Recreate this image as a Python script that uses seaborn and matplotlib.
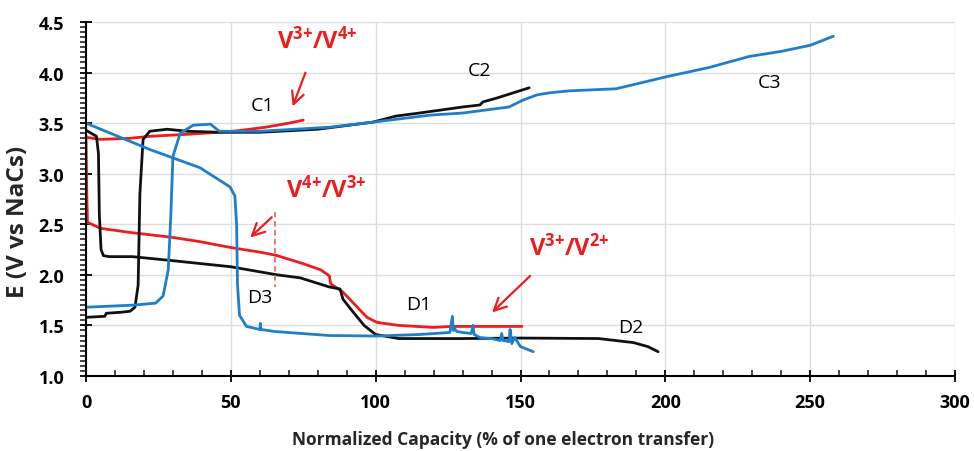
import matplotlib
matplotlib.use("Agg")
import matplotlib.pyplot as plt
import seaborn as sns
import pandas as pd
import numpy as np
from matplotlib.ticker import MultipleLocator

# ---------------- data ----------------
# Cycle 1 (red)
c1_x = [0, 5, 15, 22, 35, 51, 62, 70, 75]
c1_y = [3.36, 3.34, 3.35, 3.37, 3.39, 3.42, 3.46, 3.50, 3.53]
d1_x = [0, 0.2, 0.5, 5, 15, 30, 39, 50, 61, 66, 75, 81, 84, 84.5, 88.7, 93, 97,
        100.4, 108, 120, 126, 135, 150.5]
d1_y = [3.38, 2.9, 2.52, 2.46, 2.42, 2.37, 2.33, 2.27, 2.22, 2.19, 2.11, 2.05, 1.99,
        1.91, 1.83, 1.70, 1.58, 1.53, 1.50, 1.48, 1.49, 1.49, 1.49]

# Cycle 2 (black)
c2_x = [0, 6.5, 7, 12, 15.2, 16.9, 18, 18.6, 19.7, 22, 28, 35, 46, 60, 80, 99, 107,
        115, 130, 136, 137, 142, 153]
c2_y = [1.58, 1.59, 1.62, 1.63, 1.64, 1.68, 1.9, 2.8, 3.34, 3.42, 3.44, 3.42, 3.41,
        3.41, 3.44, 3.51, 3.57, 3.60, 3.66, 3.68, 3.71, 3.75, 3.85]
d2_x = [0, 3.6, 4.3, 4.6, 5.2, 6, 8, 16, 30, 50, 66, 74, 84, 87.7, 88.7, 92, 96, 100,
        108, 130, 150, 177, 189, 194, 197.5]
d2_y = [3.43, 3.37, 3.2, 2.6, 2.25, 2.19, 2.18, 2.18, 2.14, 2.08, 2.0, 1.97, 1.88,
        1.86, 1.76, 1.64, 1.50, 1.41, 1.37, 1.37, 1.375, 1.37, 1.33, 1.29, 1.24]

# Cycle 3 (blue)
c3_x = [0, 16, 24, 26.6, 28.4, 29.3, 30, 32.5, 37, 43, 46, 60, 84, 99, 119, 130,
        146, 151, 155.7, 160, 167, 183, 200.5, 215, 229, 240, 250, 258]
c3_y = [1.68, 1.70, 1.72, 1.79, 2.05, 2.6, 3.17, 3.40, 3.48, 3.49, 3.42, 3.42, 3.46,
        3.51, 3.58, 3.60, 3.66, 3.73, 3.78, 3.80, 3.82, 3.84, 3.96, 4.05, 4.16, 4.21,
        4.27, 4.36]
d3_x = [0, 22, 39.3, 49.7, 51.4, 52, 52.3, 53, 55.4, 60, 60.2, 60.4, 65, 84, 100.4,
        115, 125.6, 126.5, 126.8, 127.2, 128, 130, 133, 133.6, 134, 136, 140, 143,
        143.5, 144, 146, 146.4, 147, 148, 150, 154.4]
d3_y = [3.50, 3.24, 3.06, 2.87, 2.78, 2.5, 1.9, 1.60, 1.49, 1.46, 1.52, 1.46, 1.44,
        1.40, 1.395, 1.41, 1.43, 1.59, 1.45, 1.47, 1.44, 1.43, 1.42, 1.50, 1.41,
        1.38, 1.37, 1.35, 1.42, 1.35, 1.34, 1.46, 1.32, 1.38, 1.29, 1.24]

# dashed marker line near V4+/V3+
dash_x = [65.4, 65.4]
dash_y = [2.62, 1.88]

x_label = "Normalized Capacity (% of one electron transfer)"
y_label = "E (V vs NaCs)"

RED = "#ee1c1c"
BLACK = "#111111"
BLUE = "#1f7ec9"

# ---------------- styling ----------------
sns.set_style("ticks")
plt.rcParams["font.family"] = ["Open Sans", "DejaVu Sans"]
plt.rcParams["mathtext.fontset"] = "custom"
plt.rcParams["mathtext.rm"] = "Open Sans"
plt.rcParams["mathtext.bf"] = "Open Sans:bold"

fig = plt.figure(figsize=(9.74, 4.52), dpi=100)
ax = fig.add_axes([0.0883, 0.166, 0.8922, 0.783])

curves = [
    (c1_x, c1_y, RED), (d1_x, d1_y, RED),
    (c2_x, c2_y, BLACK), (d2_x, d2_y, BLACK),
    (c3_x, c3_y, BLUE), (d3_x, d3_y, BLUE),
]
for xs, ys, col in curves:
    df = pd.DataFrame({"x": xs, "y": ys})
    sns.lineplot(data=df, x="x", y="y", sort=False, estimator=None,
                 color=col, linewidth=2.0, ax=ax)

ax.plot(dash_x, dash_y, ls=(0, (3, 2)), color="#e07070", lw=1.3)

ax.set_xlim(0, 300)
ax.set_ylim(1.0, 4.5)
ax.xaxis.set_major_locator(MultipleLocator(50))
ax.xaxis.set_minor_locator(MultipleLocator(10))
ax.yaxis.set_major_locator(MultipleLocator(0.5))
ax.yaxis.set_minor_locator(MultipleLocator(0.05))
ax.yaxis.set_major_formatter(matplotlib.ticker.FormatStrFormatter("%.1f"))

ax.grid(True, which="major", color="#dcdcdc", lw=1.0)
ax.set_axisbelow(True)
for s in ["top", "right"]:
    ax.spines[s].set_visible(False)
for s in ["left", "bottom"]:
    ax.spines[s].set_color("black")
    ax.spines[s].set_linewidth(1.5)

ax.tick_params(axis="x", which="both", bottom=True, top=False)
ax.tick_params(axis="y", which="both", left=True, right=False)
ax.tick_params(axis="x", which="major", direction="inout", length=9, width=1.3,
               pad=8, labelsize=13, colors="black")
ax.tick_params(axis="x", which="minor", direction="in", length=4, width=1.2)
ax.tick_params(axis="y", which="major", direction="inout", length=9, width=1.3,
               pad=11, labelsize=13, colors="black")
ax.tick_params(axis="y", which="minor", direction="out", length=4, width=1.2)
for lab in ax.get_xticklabels() + ax.get_yticklabels():
    lab.set_fontweight("bold")

ax.set_xlabel(x_label, fontsize=12.5, fontweight="bold")
ax.set_ylabel(y_label, fontsize=17.5, fontweight="bold")
ax.xaxis.set_label_coords(0.48, -0.152)
ax.yaxis.set_label_coords(-0.064, 0.437)

# ---------------- annotations ----------------
arrow_kw = dict(arrowstyle="->", color=RED, lw=1.6, mutation_scale=22)
ax.annotate(r"$\mathbf{V^{3{+}}/V^{4{+}}}$", xy=(71, 3.64), xytext=(80, 4.32),
            color=RED, fontsize=17, ha="center", va="center",
            arrowprops=dict(**arrow_kw, shrinkA=12))
ax.annotate(r"$\mathbf{V^{4{+}}/V^{3{+}}}$", xy=(56, 2.35), xytext=(83, 2.85),
            color=RED, fontsize=17, ha="center", va="center",
            arrowprops=dict(**arrow_kw, shrinkA=12, relpos=(0.05, 0.1)))
ax.annotate(r"$\mathbf{V^{3{+}}/V^{2{+}}}$", xy=(139.5, 1.61), xytext=(167, 2.27),
            color=RED, fontsize=17, ha="center", va="center",
            arrowprops=dict(**arrow_kw, shrinkA=12, relpos=(0.2, 0.0)))

labels = [("C1", 61, 3.68), ("C2", 136, 4.03), ("C3", 236, 3.91),
          ("D3", 60, 1.78), ("D1", 115, 1.71), ("D2", 188, 1.48)]
for t, x, y in labels:
    ax.text(x, y, t, fontsize=14, color="black", ha="center", va="center")

fig.savefig("out.png", dpi=100)
